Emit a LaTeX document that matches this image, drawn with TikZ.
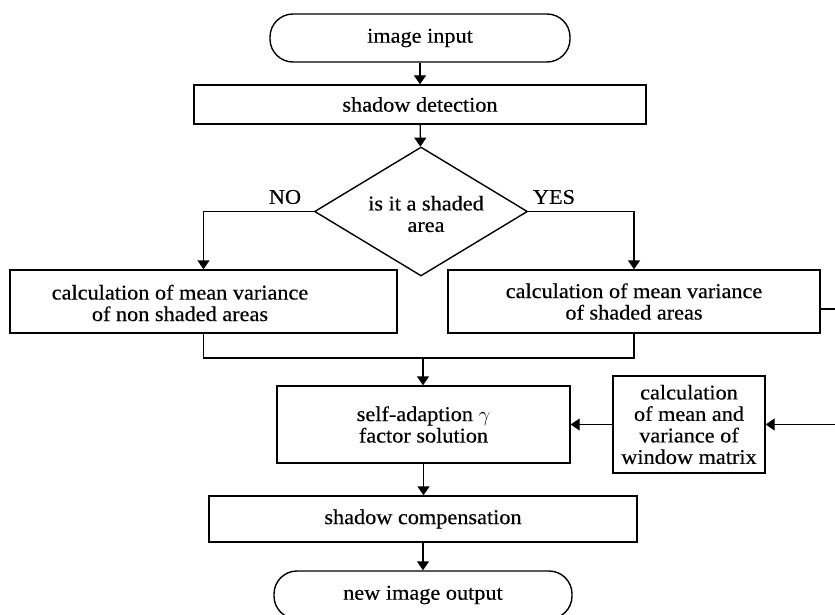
\documentclass[tikz,border=0pt]{standalone}
\usepackage{fontspec}
\setmainfont[FakeStretch=1.06,FakeBold=0.4]{Liberation Serif}
\usetikzlibrary{shapes.geometric,arrows.meta,calc}
\begin{document}
\begin{tikzpicture}[x=1pt,y=-1pt,
  every node/.style={font=\fontsize{21}{21.5}\selectfont, inner sep=0pt},
  box/.style={draw, line width=1.4pt, rectangle, align=center},
  term/.style={draw, line width=1.4pt, rounded corners=23pt, align=center},
  arr/.style={line width=1.4pt, -{Triangle[width=12pt,length=9pt]}},
  ln/.style={line width=1.4pt}]
\useasboundingbox (0,0) rectangle (835,615);
\fill[white] (0,0) rectangle (835,615);

\node[term, minimum width=300pt, minimum height=48pt] (in) at (420,38) {image input};
\node[box, minimum width=452pt, minimum height=39pt] (det) at (420,104.5) {shadow detection};
\node[draw, line width=1.4pt, diamond, minimum width=213pt, minimum height=129pt] (dec) at (421,211.5) {};
\node[align=center] (dect) at (426,214) {is it a shaded\\area};
\node (no) at (285,197) {NO};
\node (yes) at (554,197) {YES};

\node[box, minimum width=387pt, minimum height=63pt] (lbox) at (203.5,301.5) {};
\node[align=center] (ltxt) at (180,303) {calculation of mean variance\\of non shaded areas};
\node[box, minimum width=372pt, minimum height=63pt] (rbox) at (634,301.5) {calculation of mean variance\\of shaded areas};

\node[box, minimum width=293pt, minimum height=77pt] (sa) at (423.5,424.5) {self-adaption $\gamma$\\factor solution};
\node[box, minimum width=152pt, minimum height=97pt] (wm) at (689,424.5) {calculation\\of mean and\\variance of\\window matrix};
\node[box, minimum width=428pt, minimum height=46pt] (sc) at (423,519) {shadow compensation};
\node[term, minimum width=298pt, minimum height=48pt] (out) at (423,595) {new image output};

\coordinate (mg) at (423,358);

\draw[arr] (in) -- (det);
\draw[arr] (det) -- (dec);
\draw[arr] (dec.west) -| (lbox.north);
\draw[arr] (dec.east) -| (rbox.north);
\draw[ln] (lbox.south) |- (mg) -| (rbox.south);
\draw[arr] (mg) -- (mg |- sa.north);
\draw[arr] (wm.west) -- (sa.east);
\draw[arr] ([yshift=-7.5pt]rbox.east) -- ++(40,0) |- (wm.east);
\draw[arr] (sa.south) -- (sa.south |- sc.north);
\draw[arr] (sc.south) -- (sc.south |- out.north);
\end{tikzpicture}
\end{document}
